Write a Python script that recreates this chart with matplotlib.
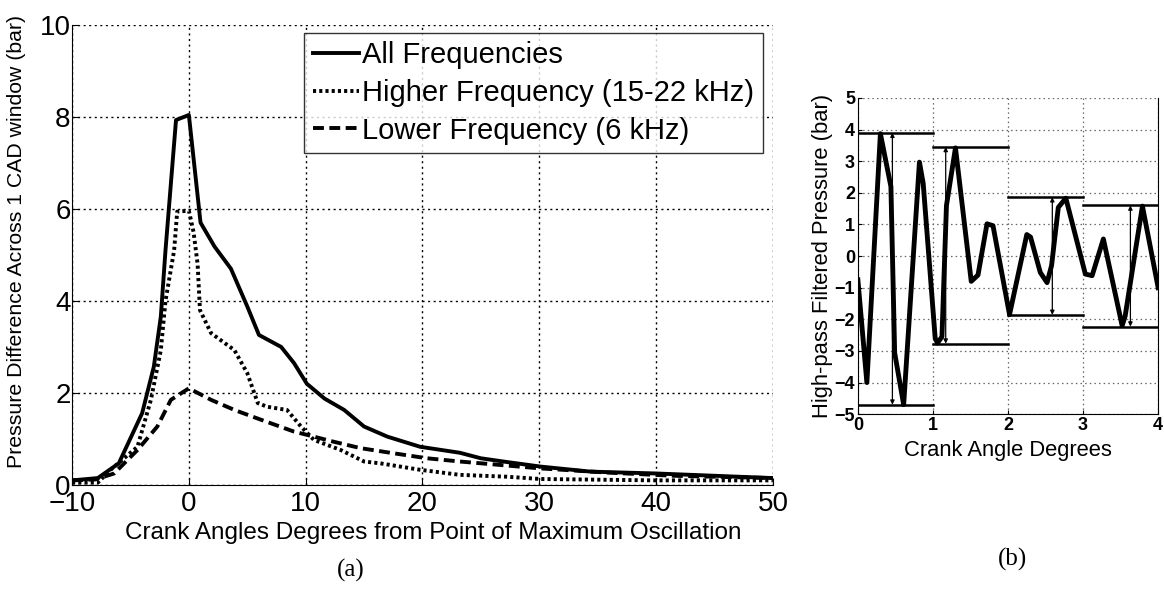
import matplotlib
matplotlib.use("Agg")
import matplotlib.pyplot as plt

plt.rcParams['font.family'] = ['Liberation Sans', 'DejaVu Sans']

# --- panel (a): pressure difference vs crank angle ---
all_x = [-10, -7.8, -6, -4, -3, -2.4, -2, -1.1, 0, 1.0, 2.2, 3.6, 5.0, 6.0, 7.9, 9.0,
         10.1, 11.6, 13.3, 15.0, 17.0, 19.8, 23.2, 25.0, 27.2, 30.1, 34.4, 40.0, 50.0]
all_y = [0.1, 0.15, 0.47, 1.56, 2.57, 3.66, 5.1, 7.93, 8.04, 5.7, 5.18, 4.7, 3.88, 3.26,
         3.0, 2.65, 2.2, 1.88, 1.63, 1.27, 1.05, 0.83, 0.7, 0.58, 0.5, 0.4, 0.29, 0.25, 0.15]

high_x = [-10, -7.8, -6.7, -4.4, -3.25, -2.4, -2.0, -1.26, -1.0, 0, 0.4, 0.75, 0.95, 1.9,
          3.9, 5.0, 5.9, 6.7, 8.4, 9.6, 10.7, 13.0, 15.0, 16.4, 19.8, 23.2, 27.2, 30.1, 40, 50]
high_y = [0.05, 0.05, 0.33, 0.83, 1.85, 2.93, 4.0, 5.1, 5.94, 5.96, 5.5, 4.8, 3.8, 3.3,
          2.93, 2.43, 1.78, 1.7, 1.63, 1.27, 0.98, 0.76, 0.51, 0.47, 0.33, 0.22, 0.18, 0.13, 0.1, 0.1]

low_x = [-10, -8, -6.4, -4.4, -2.7, -1.54, 0, 1.9, 3.9, 6.15, 9.0, 10.1, 12.4, 14.7,
         17.5, 20.4, 23.2, 30.1, 35.8, 41.5, 50]
low_y = [0.1, 0.12, 0.25, 0.76, 1.27, 1.85, 2.1, 1.85, 1.63, 1.42, 1.16, 1.09, 0.94, 0.8,
         0.69, 0.58, 0.51, 0.36, 0.27, 0.2, 0.15]

# --- panel (b): high-pass filtered pressure over 4 CAD ---
sig_x = [0.0, 0.12, 0.30, 0.44, 0.49, 0.61, 0.82, 0.87, 1.03, 1.06, 1.12, 1.18, 1.30,
         1.51, 1.60, 1.72, 1.80, 2.02, 2.25, 2.30, 2.43, 2.52, 2.58, 2.67, 2.77, 3.03,
         3.12, 3.27, 3.52, 3.56, 3.79, 4.0]
sig_y = [-0.75, -4.0, 3.87, 2.2, -3.06, -4.7, 2.97, 2.3, -2.6, -2.75, -2.55, 1.6, 3.42,
         -0.8, -0.6, 1.02, 0.96, -1.85, 0.68, 0.6, -0.52, -0.84, -0.3, 1.54, 1.83, -0.57,
         -0.62, 0.54, -2.2, -1.9, 1.58, -1.0]

win_start = [0, 1, 2, 3]
win_top = [3.9, 3.45, 1.86, 1.6]
win_bot = [-4.7, -2.77, -1.86, -2.23]
arrow_x = [0.46, 1.17, 2.59, 3.63]

fig = plt.figure(figsize=(11.64, 5.9), dpi=100)

# panel (a)
ax1 = fig.add_axes([0.0619, 0.178, 0.6021, 0.780])
ax1.plot(all_x, all_y, color='black', linewidth=2.8, label='All Frequencies')
ax1.plot(high_x, high_y, color='black', linewidth=2.8, linestyle=(0, (0.8, 0.8)),
         label='Higher Frequency (15-22 kHz)')
ax1.plot(low_x, low_y, color='black', linewidth=2.8, linestyle=(0, (2.8, 1.4)),
         label='Lower Frequency (6 kHz)')
ax1.set_xlim(-10, 50)
ax1.set_ylim(0, 10)
ax1.set_xticks(range(-10, 51, 10))
ax1.set_yticks(range(0, 11, 2))
ax1.grid(True, color='black', linestyle=(0, (1.5, 2.5)), linewidth=1.0)
ax1.tick_params(direction='in', labelsize=20, length=5, pad=1)
ax1.tick_params(axis='x', pad=4)
for s in ['top', 'right']:
    ax1.spines[s].set_visible(False)
ax1.set_xlabel('Crank Angles Degrees from Point of Maximum Oscillation', fontsize=17.5)
ax1.xaxis.set_label_coords(0.515, -0.08)
ax1.set_ylabel('Pressure Difference Across 1 CAD window (bar)', fontsize=15.3)
ax1.yaxis.set_label_coords(-0.066, 0.53)
leg = ax1.legend(loc='upper right', bbox_to_anchor=(0.986, 0.983), fontsize=21, frameon=True,
                 fancybox=False, edgecolor='black', handlelength=1.6, handletextpad=0.1,
                 borderpad=0.3, labelspacing=0.33, borderaxespad=0.0)
leg.get_frame().set_linewidth(1.0)
fig.text(0.301, 0.033, '(a)', ha='center', va='center', fontsize=18, family='Liberation Serif')

# panel (b)
ax2 = fig.add_axes([0.737, 0.298, 0.258, 0.536])
ax2.plot(sig_x, sig_y, color='black', linewidth=3.5)
for x0, top, bot, ax_ in zip(win_start, win_top, win_bot, arrow_x):
    ax2.plot([x0, x0 + 1], [top, top], color='black', linewidth=1.8)
    ax2.plot([x0, x0 + 1], [bot, bot], color='black', linewidth=1.8)
    ax2.annotate('', xy=(ax_, top), xytext=(ax_, bot),
                 arrowprops=dict(arrowstyle='<|-|>', color='black', lw=0.9,
                                 mutation_scale=6, shrinkA=0, shrinkB=0))
ax2.set_xlim(0, 4)
ax2.set_ylim(-5, 5)
ax2.set_xticks(range(0, 5))
ax2.set_yticks(range(-5, 6))
ax2.grid(True, color='#666666', linestyle=(0, (1.2, 2.5)), linewidth=0.9)
ax2.tick_params(direction='in', labelsize=13, length=3, pad=2)
for lab in ax2.get_xticklabels() + ax2.get_yticklabels():
    lab.set_fontweight('bold')
ax2.spines['top'].set_visible(False)
ax2.set_xlabel('Crank Angle Degrees', fontsize=15.8, labelpad=4)
ax2.set_ylabel('High-pass Filtered Pressure (bar)', fontsize=15.8, labelpad=1)
fig.text(0.870, 0.052, '(b)', ha='center', va='center', fontsize=18, family='Liberation Serif')

fig.savefig('out.png', dpi=100)
